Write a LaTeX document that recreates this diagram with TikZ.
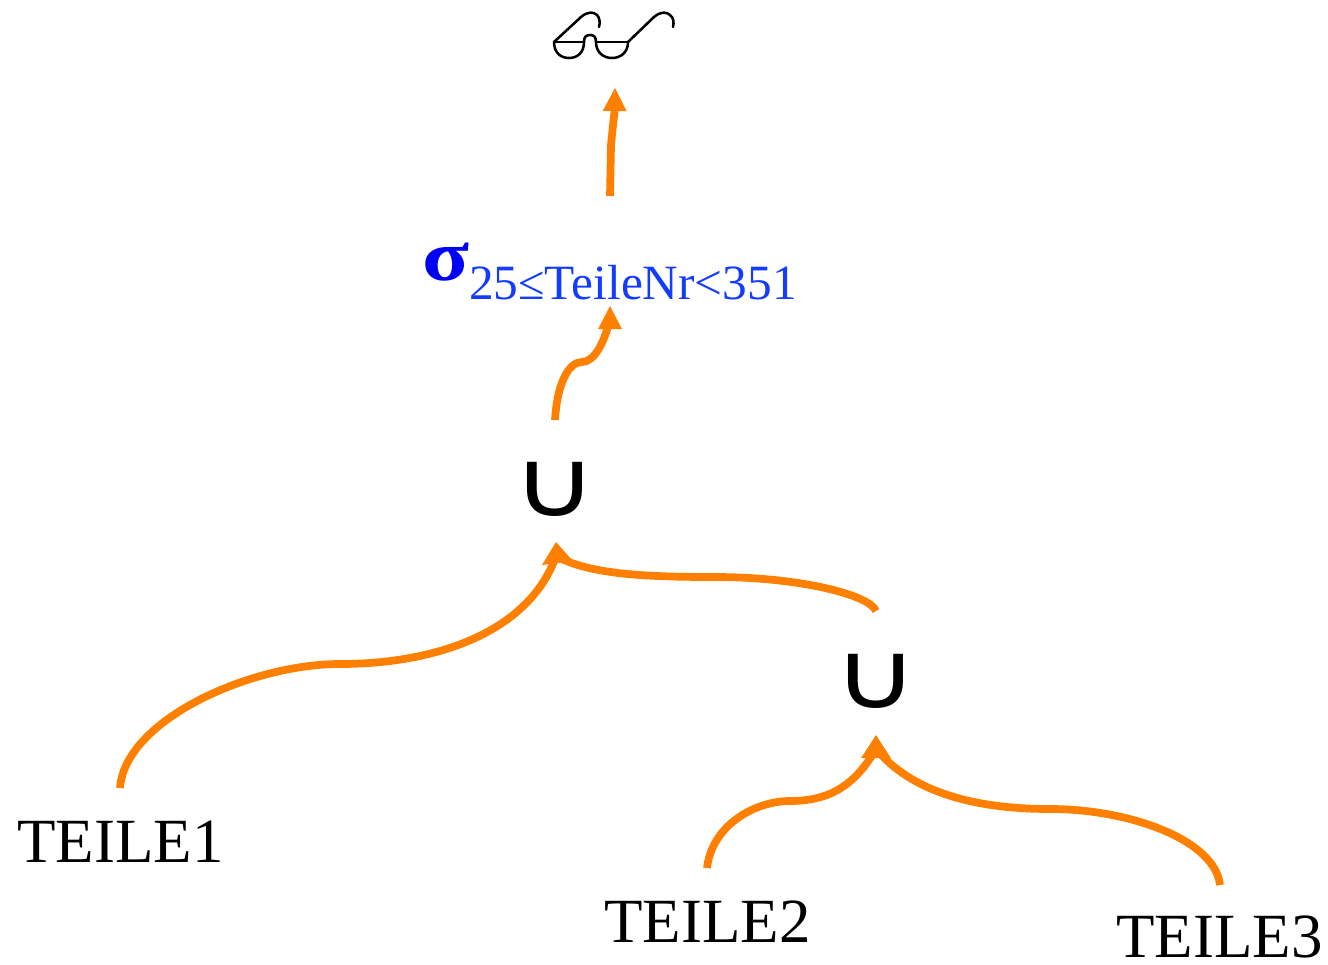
\documentclass[tikz,border=0pt]{standalone}
\usepackage{fontspec}
\setmainfont{Liberation Serif}
\newfontfamily\symfont{DejaVu Sans}
\usetikzlibrary{arrows.meta}
\definecolor{edgeor}{RGB}{255,128,0}
\definecolor{subblue}{RGB}{20,60,255}
\definecolor{sigblue}{RGB}{0,0,245}
\tikzset{
  x=0.75pt,y=-0.75pt,
  flow/.style={draw=edgeor,line width=5.8pt},
  headup/.style={draw=edgeor,line width=1pt,-{Triangle[length=17.25pt,width=17.6pt]}},
  headwide/.style={draw=edgeor,line width=1pt,-{Triangle[length=17.25pt,width=22pt]}},
  rel/.style={inner sep=0pt,anchor=base west,font=\fontsize{47.2}{50}\selectfont},
  unionop/.style={inner sep=0pt,anchor=center,font=\symfont\fontsize{60}{60}\selectfont},
  specs/.style={line width=1.9pt,line cap=round,line join=round}
}
\begin{document}
\begin{tikzpicture}
\useasboundingbox (0,0) rectangle (1328,964);
% text nodes
\node[rel] (teile1) at (17,862) {TEILE1};
\node[rel] (teile2) at (604,942) {TEILE2};
\node[rel] (teile3) at (1116,957.5) {TEILE3};
\node[unionop] (u1) at (555,489) {\scalebox{1.45}[1.17]{∪}};
\node[unionop] (u2) at (876,681) {\scalebox{1.45}[1.17]{∪}};
\node[inner sep=0pt,anchor=base west,text=subblue] (sel) at (422,280)
  {{\color{sigblue}\bfseries\fontsize{60}{60}\selectfont\scalebox{1.08}[0.9]{σ}}\raisebox{-14.3pt}{\fontsize{37}{40}\selectfont 25{\fontsize{36}{40}\selectfont ≤}TeileNr<351}};
% glasses
\begin{scope}[specs]
\draw (554,42) -- (584,42) (596,42) -- (628,42);
\draw (554,42) .. controls (554,53) and (561,58) .. (569,58) .. controls (577,58) and (584,53) .. (584,42);
\draw (596,42) .. controls (596,53) and (604,58) .. (612,58) .. controls (620,58) and (628,53) .. (628,42);
\draw (584,42) .. controls (584,37) and (586,35) .. (590,35) .. controls (594,35) and (596,37) .. (596,42);
\draw (554,42) -- (581,17) .. controls (588,11) and (594,12) .. (597,15) .. controls (600,18) and (600,23) .. (599,27);
\draw (628,42) -- (654,17) .. controls (661,11) and (667,12) .. (670,15) .. controls (674,18) and (674,23) .. (673,27);
\end{scope}
% connector ends
\coordinate (t1o) at (120,788);
\coordinate (t2o) at (707,868);
\coordinate (t3o) at (1220,885);
\coordinate (u1i) at (556,542);
\coordinate (u1c) at (556,556);
\coordinate (u1o) at (555,420);
\coordinate (u1l) at (573,561);
\coordinate (u1r) at (542,565);
\coordinate (u2i) at (876,735);
\coordinate (u2b) at (876,757);
\coordinate (u2c) at (876,749);
\coordinate (u2o) at (876,611);
\coordinate (seli) at (610,306);
\coordinate (selb) at (610,329);
\coordinate (selc) at (609,322);
\coordinate (selo) at (610,196);
\coordinate (gli) at (615,88);
\coordinate (glb) at (614.7,111);
\coordinate (glm) at (611,145);
% connectors
\draw[flow] (t1o) .. controls (125,720) and (250,664) .. (340,664) .. controls (440,664) and (530,630) .. (u1c);
\draw[flow] (u2o) .. controls (870,595) and (800,577) .. (715,577) .. controls (650,577) and (590,575) .. (u1c);
\draw[flow] (t2o) .. controls (712,825) and (755,801) .. (790,801) .. controls (830,801) and (855,785) .. (u2c);
\draw[flow] (t3o) .. controls (1215,840) and (1130,809) .. (1050,809) .. controls (970,809) and (910,790) .. (u2c);
\draw[flow] (u1o) .. controls (557,385) and (568,362) .. (582,362) .. controls (595,362) and (605,340) .. (selc);
\draw[flow] (selo) -- (glm) .. controls (612.5,130) and (613.5,120) .. (glb);
\fill[edgeor] (u1i) -- (u1l) -- (u1r) -- cycle;
\draw[headwide] (u2b) -- (u2i);
\draw[headup] (selb) -- (seli);
\draw[headup] (glb) -- (gli);
\end{tikzpicture}
\end{document}
